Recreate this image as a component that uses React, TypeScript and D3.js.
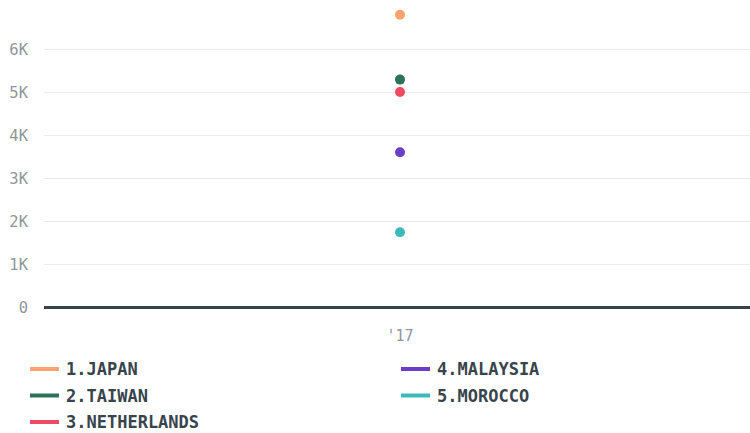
import * as d3 from 'd3';
import React from 'react';

const years = ["'17"];
const countries = ['1.JAPAN', '2.TAIWAN', '3.NETHERLANDS', '4.MALAYSIA', '5.MOROCCO'];
const values = [6810, 5300, 5010, 3610, 1750];
const colors = ['#ffa36e', '#2b7257', '#ec4b63', '#6b3ec8', '#3bbab8'];
const yTicks = [0, 1000, 2000, 3000, 4000, 5000, 6000];

const W = 750, H = 433;
const margin = { top: 10, left: 44, right: 0 };
const zeroY = 307.5;

export default function App() {
  const x = d3.scalePoint<string>().domain(years).range([50, W - margin.right]).padding(0.5);
  const y = d3.scaleLinear().domain([0, 6000]).range([zeroY, 49.5]);
  const fmt = (d: number) => (d === 0 ? '0' : d / 1000 + 'K');
  const mono = '"DejaVu Sans Mono", monospace';

  return (
    <svg width={W} height={H} style={{ position: 'absolute', left: 0, top: 0 }}>
      <rect width={W} height={H} fill="#fff" />
      {yTicks.map(t => (
        <g key={t}>
          {t > 0 && <line x1={margin.left} x2={W} y1={y(t)} y2={y(t)} stroke="#ebebeb" strokeWidth={1} />}
          <text x={28} y={y(t)} dy="0.36em" textAnchor="end" fontFamily={mono} fontSize={15.5} fill="#8f979b">{fmt(t)}</text>
        </g>
      ))}
      <line x1={margin.left} x2={W} y1={zeroY} y2={zeroY} stroke="#37444c" strokeWidth={3} />
      {years.map(yr => (
        <text key={yr} x={x(yr)} y={336} dy="0.36em" textAnchor="middle" fontFamily={mono} fontSize={15} fill="#8f979b">{yr}</text>
      ))}
      {values.map((v, i) => (
        <circle key={countries[i]} cx={x(years[0])} cy={y(v)} r={5} fill={colors[i]} />
      ))}
      {countries.map((c, i) => {
        const col = i < 3 ? 0 : 1;
        const row = i < 3 ? i : i - 3;
        const lx = col === 0 ? 30 : 401;
        const ly = 369 + row * 26.5;
        return (
          <g key={c}>
            <line x1={lx} x2={lx + 29} y1={ly} y2={ly} stroke={colors[i]} strokeWidth={4} />
            <text x={lx + 36} y={ly} dy="0.36em" fontFamily={mono} fontWeight="bold" fontSize={17} fill="#37444c">{c}</text>
          </g>
        );
      })}
    </svg>
  );
}
